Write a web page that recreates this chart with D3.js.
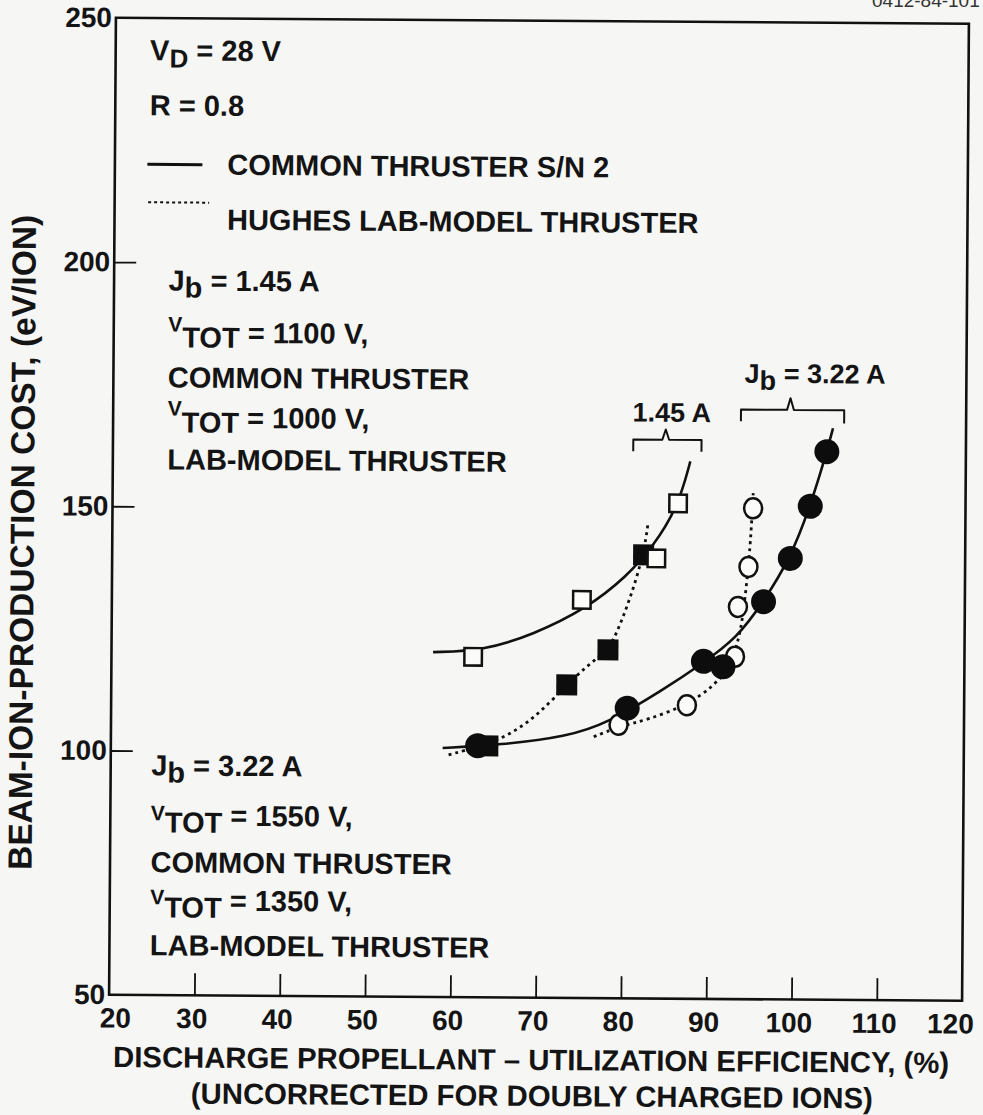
<!DOCTYPE html>
<html><head><meta charset="utf-8">
<script src="https://cdn.jsdelivr.net/npm/d3@7"></script>
<style>
body{margin:0;background:#f6f6f4}
svg{display:block}
text{font-family:"Liberation Sans",Arial,Helvetica,sans-serif;font-weight:bold;fill:#141414}
</style>
</head><body>
<svg id="c" width="983" height="1115"></svg>
<script>
// ---------- data ----------
const xTickLabels = [20, 30, 40, 50, 60, 70, 80, 90, 100, 110, 120];
const xTickMarks  = [30, 40, 50, 60, 70, 80, 90, 100, 110];
const yTickLabels = [50, 100, 150, 200, 250];
const yTickMarks  = [100, 150, 200];

// Common thruster S/N 2, Jb = 1.45 A (open squares, solid line)
const openSquares   = [[62.4,119.7],[75.1,131.5],[83.8,140.1],[86.3,151.4]];
// Hughes lab-model thruster, Jb = 1.45 A (filled squares, dotted line)
const filledSquares = [[64.2,101.5],[73.4,114.1],[78.2,121.3],[82.3,140.8]];
// Common thruster S/N 2, Jb = 3.22 A (filled circles, solid line)
const filledCircles = [[63.0,101.5],[80.5,109.4],[89.4,119.1],[91.7,118.0],[96.4,131.4],[99.5,140.3],[101.8,151.0],[103.7,162.2]];
// Hughes lab-model thruster, Jb = 3.22 A (open circles, dotted line)
const openCircles   = [[79.5,106.0],[87.5,110.1],[93.1,120.1],[93.4,130.3],[94.6,138.5],[95.1,150.5]];

// faired curves
const fitCommon145 = [[57.7,120.6],[63.6,121.0],[69.4,124.3],[75.7,129.8],[80.3,136.3],[83.4,142.5],[86.3,150.7],[87.7,160.0]];
const fitLab145    = [[59.6,99.6],[65.4,102.4],[69.5,106.9],[73.4,114.1],[75.7,117.9],[78.2,121.3],[79.2,124.7],[80.7,131.5],[82.3,140.8],[82.8,147.3]];
const fitCommon322 = [[58.9,101.0],[65.6,101.7],[73.5,103.5],[78.2,106.3],[84.7,113.2],[89.4,118.8],[93.3,123.9],[96.4,131.4],[99.5,140.3],[101.8,151.0],[103.7,162.2],[104.4,167.0]];
const fitLab322    = [[76.6,103.5],[79.5,105.6],[82.8,107.0],[87.5,110.1],[90.6,114.0],[92.5,118.0],[93.5,123.5],[94.0,128.3],[94.6,138.5],[94.9,146.0],[95.1,153.6]];

// bracket annotations (data units)
const bracket145 = [[81.0,162.0],[81.0,164.4],[84.4,164.4],[84.8,166.5],[85.2,164.4],[89.0,164.4],[89.0,162.0]];
const bracket322 = [[93.6,168.3],[93.6,170.7],[99.0,170.7],[99.4,173.1],[99.8,170.7],[105.7,170.7],[105.7,168.0]];

// ---------- chart ----------
const svg = d3.select("#c");
svg.append("rect").attr("width",983).attr("height",1115).attr("fill","#f6f6f4");

// faint plate number at the top-right (cut off in the scan)
svg.append("text").attr("x",872).attr("y",7).attr("font-size",19)
   .style("font-weight","normal").style("fill","#333").text("0412-84-101");

const g = svg.append("g").attr("transform","rotate(0.4,539,509)");

const L = 112.5, R = 965.5, T = 20.75, B = 997.75;
const x = d3.scaleLinear().domain([20,120]).range([L,R]);
const y = d3.scaleLinear().domain([50,250]).range([B,T]);

// frame
g.append("rect").attr("x",L).attr("y",T).attr("width",R-L).attr("height",B-T)
 .attr("fill","none").attr("stroke","#111").attr("stroke-width",2.6);

// tick marks (inward)
const xt = g.append("g").attr("transform",`translate(0,${B})`)
  .call(d3.axisBottom(x).tickValues(xTickMarks).tickSizeInner(-22).tickSizeOuter(0).tickFormat(""));
xt.select(".domain").remove();
xt.selectAll("line").attr("stroke","#111").attr("stroke-width",1.8);

const yt = g.append("g").attr("transform",`translate(${L},0)`)
  .call(d3.axisLeft(y).tickValues(yTickMarks).tickSizeInner(-22).tickSizeOuter(0).tickFormat(""));
yt.select(".domain").remove();
yt.selectAll("line").attr("stroke","#111").attr("stroke-width",1.8);

// tick labels
const xl = g.append("g").attr("transform",`translate(0,${B})`)
  .call(d3.axisBottom(x).tickValues(xTickLabels).tickSize(0).tickPadding(13).tickFormat(d3.format("d")));
xl.select(".domain").remove();
xl.selectAll("text").attr("font-size",28).attr("font-family",null).style("fill","#141414")
  .attr("dx",(d,i,n)=> i===0 ? 6 : (i===n.length-1 ? -12 : -3));

const yl = g.append("g").attr("transform",`translate(${L},0)`)
  .call(d3.axisLeft(y).tickValues(yTickLabels).tickSize(0).tickPadding(4).tickFormat(d3.format("d")));
yl.select(".domain").remove();
yl.selectAll("text").attr("font-size",28).attr("font-family",null).style("fill","#141414");

// axis titles
g.append("text").attr("x",535).attr("y",1070).attr("text-anchor","middle").attr("font-size",29.3)
 .text("DISCHARGE PROPELLANT \u2013 UTILIZATION EFFICIENCY, (%)");
g.append("text").attr("x",536).attr("y",1106).attr("text-anchor","middle").attr("font-size",29.3)
 .text("(UNCORRECTED FOR DOUBLY CHARGED IONS)");
g.append("text").attr("transform","translate(34,546) rotate(-90)").attr("text-anchor","middle")
 .attr("font-size",33.5).text("BEAM-ION-PRODUCTION COST, (eV/ION)");

// curves
const line = d3.line().x(d=>x(d[0])).y(d=>y(d[1])).curve(d3.curveBasis);
const solidStyle = s => s.attr("fill","none").attr("stroke","#111").attr("stroke-width",2.6);
const dotStyle = s => s.attr("fill","none").attr("stroke","#111").attr("stroke-width",2.8).attr("stroke-dasharray","3,4");
g.append("path").attr("d",line(fitCommon145)).call(solidStyle);
g.append("path").attr("d",line(fitCommon322)).call(solidStyle);
g.append("path").attr("d",line(fitLab145)).call(dotStyle);
g.append("path").attr("d",line(fitLab322)).call(dotStyle);

// markers
g.append("g").selectAll("ellipse").data(openCircles).join("ellipse")
 .attr("cx",d=>x(d[0])).attr("cy",d=>y(d[1])).attr("rx",9).attr("ry",10)
 .attr("fill","#fbfbfa").attr("stroke","#111").attr("stroke-width",2.5);
g.append("g").selectAll("circle").data(filledCircles).join("circle")
 .attr("cx",d=>x(d[0])).attr("cy",d=>y(d[1])).attr("r",12.5).attr("fill","#0d0d0d");
g.append("g").selectAll("rect").data(filledSquares).join("rect")
 .attr("x",d=>x(d[0])-10.5).attr("y",d=>y(d[1])-10.5).attr("width",21).attr("height",21).attr("fill","#0d0d0d");
g.append("g").selectAll("rect").data(openSquares).join("rect")
 .attr("x",d=>x(d[0])-8.75).attr("y",d=>y(d[1])-8.75).attr("width",17.5).attr("height",17.5)
 .attr("fill","#fbfbfa").attr("stroke","#111").attr("stroke-width",2.5);

// brackets
const bline = d3.line().x(d=>x(d[0])).y(d=>y(d[1]));
[bracket145, bracket322].forEach(b=>{
  g.append("path").attr("d",bline(b)).attr("fill","none").attr("stroke","#111")
   .attr("stroke-width",2).attr("stroke-linejoin","round");
});
g.append("text").attr("x",x(85.5)).attr("y",y(168.1)).attr("text-anchor","middle").attr("font-size",27).text("1.45 A");
const jb = g.append("text").attr("x",x(94.0)).attr("y",y(176.2)).attr("font-size",27);
jb.append("tspan").text("J");
jb.append("tspan").attr("dy",7).text("b");
jb.append("tspan").attr("dy",-7).text(" = 3.22 A");

// legend / notes
const FS = 29;
const note = (xx, yy, txt) => g.append("text").attr("x",xx).attr("y",yy).attr("font-size",FS).text(txt);
const vd = g.append("text").attr("x",147).attr("y",63).attr("font-size",FS);
vd.append("tspan").text("V");
vd.append("tspan").attr("dy",7).attr("font-size",26).text("D");
vd.append("tspan").attr("dy",-7).text(" = 28 V");
note(147,118,"R = 0.8");
g.append("line").attr("x1",145).attr("x2",200).attr("y1",167).attr("y2",167).attr("stroke","#111").attr("stroke-width",3);
note(225,177,"COMMON THRUSTER S/N 2");
g.append("line").attr("x1",146).attr("x2",207).attr("y1",205).attr("y2",205).attr("stroke","#111")
 .attr("stroke-width",2).attr("stroke-dasharray","3,3");
note(225,232,"HUGHES LAB-MODEL THRUSTER");

const jbNote = (xx, yy, val) => {
  const t = g.append("text").attr("x",xx).attr("y",yy).attr("font-size",FS);
  t.append("tspan").text("J");
  t.append("tspan").attr("dy",7).text("b");
  t.append("tspan").attr("dy",-7).text(" = " + val);
};
const vtot = (xx, yV, yT, yR, val) => {
  const t = g.append("text").attr("x",xx).attr("y",yV).attr("font-size",FS);
  t.append("tspan").attr("font-size",21).text("V");
  t.append("tspan").attr("dy",yT-yV).text("TOT");
  t.append("tspan").attr("dy",yR-yT).text(" = " + val);
};
jbNote(167,293,"1.45 A");
vtot(167,334,350,345,"1100 V,");
note(167,390,"COMMON THRUSTER");
vtot(167,418,435,430,"1000 V,");
note(167,472,"LAB-MODEL THRUSTER");

jbNote(153,778,"3.22 A");
vtot(153,823,835,828,"1550 V,");
note(153,875,"COMMON THRUSTER");
vtot(153,907,920,913,"1350 V,");
note(153,958,"LAB-MODEL THRUSTER");
</script>
</body></html>
